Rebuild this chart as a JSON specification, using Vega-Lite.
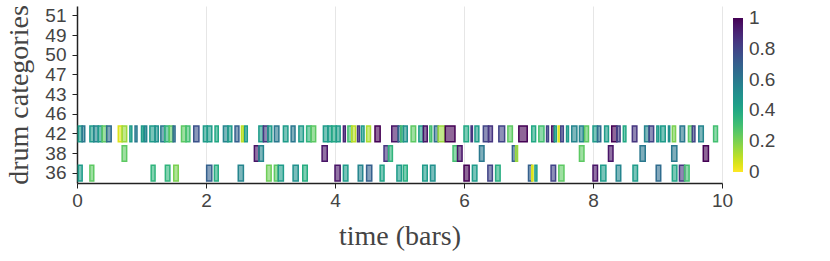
{
  "$schema": "https://vega.github.io/schema/vega-lite/v6.json",
  "autosize": {"type": "none"},
  "width": 645,
  "height": 177,
  "padding": {"left": 77, "top": 6, "right": 108, "bottom": 78},
  "background": "white",
  "config": {"view": {"stroke": null}},
  "data": {"values": [
    {"drum":"42","t0":0.02,"t1":0.08,"v":0.45},
    {"drum":"42","t0":0.08,"t1":0.12,"v":0.6},
    {"drum":"42","t0":0.20,"t1":0.26,"v":0.45},
    {"drum":"42","t0":0.26,"t1":0.33,"v":0.55},
    {"drum":"42","t0":0.33,"t1":0.39,"v":0.45},
    {"drum":"42","t0":0.39,"t1":0.46,"v":0.25},
    {"drum":"42","t0":0.46,"t1":0.53,"v":0.65},
    {"drum":"42","t0":0.64,"t1":0.70,"v":0.05},
    {"drum":"42","t0":0.70,"t1":0.77,"v":0.15},
    {"drum":"42","t0":0.82,"t1":0.85,"v":0.45},
    {"drum":"42","t0":0.90,"t1":0.93,"v":0.6},
    {"drum":"42","t0":1.00,"t1":1.03,"v":0.45},
    {"drum":"42","t0":1.05,"t1":1.08,"v":0.55},
    {"drum":"42","t0":1.13,"t1":1.21,"v":0.45},
    {"drum":"42","t0":1.21,"t1":1.26,"v":0.5},
    {"drum":"42","t0":1.30,"t1":1.36,"v":0.6},
    {"drum":"42","t0":1.36,"t1":1.43,"v":0.35},
    {"drum":"42","t0":1.43,"t1":1.49,"v":0.25},
    {"drum":"42","t0":1.49,"t1":1.52,"v":0.65},
    {"drum":"42","t0":1.62,"t1":1.69,"v":0.25},
    {"drum":"42","t0":1.69,"t1":1.75,"v":0.3},
    {"drum":"42","t0":1.81,"t1":1.89,"v":0.75},
    {"drum":"42","t0":1.96,"t1":2.02,"v":0.45},
    {"drum":"42","t0":2.02,"t1":2.09,"v":0.45},
    {"drum":"42","t0":2.14,"t1":2.19,"v":0.4},
    {"drum":"42","t0":2.27,"t1":2.34,"v":0.55},
    {"drum":"42","t0":2.34,"t1":2.40,"v":0.45},
    {"drum":"42","t0":2.45,"t1":2.51,"v":0.7},
    {"drum":"42","t0":2.55,"t1":2.58,"v":0.1},
    {"drum":"42","t0":2.60,"t1":2.64,"v":0.45},
    {"drum":"42","t0":2.82,"t1":2.89,"v":0.45},
    {"drum":"42","t0":2.89,"t1":2.96,"v":0.85},
    {"drum":"42","t0":2.96,"t1":3.02,"v":0.45},
    {"drum":"42","t0":3.06,"t1":3.13,"v":0.6},
    {"drum":"42","t0":3.20,"t1":3.27,"v":0.45},
    {"drum":"42","t0":3.32,"t1":3.38,"v":0.6},
    {"drum":"42","t0":3.44,"t1":3.51,"v":0.45},
    {"drum":"42","t0":3.56,"t1":3.63,"v":0.35},
    {"drum":"42","t0":3.63,"t1":3.70,"v":0.25},
    {"drum":"42","t0":3.82,"t1":3.89,"v":0.45},
    {"drum":"42","t0":3.89,"t1":3.95,"v":0.45},
    {"drum":"42","t0":3.95,"t1":4.02,"v":0.4},
    {"drum":"42","t0":4.02,"t1":4.08,"v":0.45},
    {"drum":"42","t0":4.13,"t1":4.16,"v":0.9},
    {"drum":"42","t0":4.20,"t1":4.26,"v":0.3},
    {"drum":"42","t0":4.26,"t1":4.32,"v":0.1},
    {"drum":"42","t0":4.35,"t1":4.38,"v":0.85},
    {"drum":"42","t0":4.41,"t1":4.45,"v":0.45},
    {"drum":"42","t0":4.49,"t1":4.55,"v":0.12},
    {"drum":"42","t0":4.62,"t1":4.70,"v":1.0},
    {"drum":"42","t0":4.88,"t1":4.98,"v":0.95},
    {"drum":"42","t0":4.98,"t1":5.02,"v":0.65},
    {"drum":"42","t0":5.02,"t1":5.06,"v":0.3},
    {"drum":"42","t0":5.06,"t1":5.12,"v":0.5},
    {"drum":"42","t0":5.18,"t1":5.25,"v":0.25},
    {"drum":"42","t0":5.30,"t1":5.37,"v":0.45},
    {"drum":"42","t0":5.37,"t1":5.43,"v":0.95},
    {"drum":"42","t0":5.47,"t1":5.50,"v":0.3},
    {"drum":"42","t0":5.54,"t1":5.60,"v":0.65},
    {"drum":"42","t0":5.60,"t1":5.70,"v":0.15},
    {"drum":"42","t0":5.71,"t1":5.86,"v":1.0},
    {"drum":"42","t0":6.00,"t1":6.07,"v":0.4},
    {"drum":"42","t0":6.11,"t1":6.13,"v":0.85},
    {"drum":"42","t0":6.17,"t1":6.23,"v":0.45},
    {"drum":"42","t0":6.30,"t1":6.38,"v":0.8},
    {"drum":"42","t0":6.38,"t1":6.44,"v":0.85},
    {"drum":"42","t0":6.54,"t1":6.63,"v":0.8},
    {"drum":"42","t0":6.68,"t1":6.75,"v":0.25},
    {"drum":"42","t0":6.85,"t1":6.98,"v":1.0},
    {"drum":"42","t0":7.05,"t1":7.11,"v":0.4},
    {"drum":"42","t0":7.16,"t1":7.24,"v":0.3},
    {"drum":"42","t0":7.28,"t1":7.31,"v":0.8},
    {"drum":"42","t0":7.36,"t1":7.40,"v":0.95},
    {"drum":"42","t0":7.40,"t1":7.43,"v":0.45},
    {"drum":"42","t0":7.46,"t1":7.49,"v":0.05},
    {"drum":"42","t0":7.50,"t1":7.54,"v":0.8},
    {"drum":"42","t0":7.59,"t1":7.62,"v":0.45},
    {"drum":"42","t0":7.67,"t1":7.75,"v":0.55},
    {"drum":"42","t0":7.79,"t1":7.85,"v":0.55},
    {"drum":"42","t0":7.87,"t1":7.93,"v":0.25},
    {"drum":"42","t0":8.00,"t1":8.07,"v":0.45},
    {"drum":"42","t0":8.07,"t1":8.12,"v":0.65},
    {"drum":"42","t0":8.18,"t1":8.24,"v":0.45},
    {"drum":"42","t0":8.29,"t1":8.37,"v":1.0},
    {"drum":"42","t0":8.37,"t1":8.42,"v":0.8},
    {"drum":"42","t0":8.47,"t1":8.51,"v":0.4},
    {"drum":"42","t0":8.61,"t1":8.68,"v":0.85},
    {"drum":"42","t0":8.80,"t1":8.87,"v":0.55},
    {"drum":"42","t0":8.87,"t1":8.94,"v":0.8},
    {"drum":"42","t0":8.99,"t1":9.02,"v":0.45},
    {"drum":"42","t0":9.05,"t1":9.12,"v":0.45},
    {"drum":"42","t0":9.17,"t1":9.19,"v":0.5},
    {"drum":"42","t0":9.23,"t1":9.28,"v":0.2},
    {"drum":"42","t0":9.35,"t1":9.42,"v":0.6},
    {"drum":"42","t0":9.48,"t1":9.54,"v":0.25},
    {"drum":"42","t0":9.54,"t1":9.58,"v":0.8},
    {"drum":"42","t0":9.64,"t1":9.71,"v":0.55},
    {"drum":"42","t0":9.87,"t1":9.93,"v":0.3},
    {"drum":"38","t0":0.70,"t1":0.77,"v":0.25},
    {"drum":"38","t0":2.75,"t1":2.82,"v":0.95},
    {"drum":"38","t0":2.82,"t1":2.89,"v":0.55},
    {"drum":"38","t0":3.80,"t1":3.88,"v":0.95},
    {"drum":"38","t0":4.76,"t1":4.83,"v":0.85},
    {"drum":"38","t0":4.83,"t1":4.89,"v":0.35},
    {"drum":"38","t0":5.83,"t1":5.90,"v":0.3},
    {"drum":"38","t0":5.90,"t1":5.97,"v":0.95},
    {"drum":"38","t0":6.24,"t1":6.31,"v":0.6},
    {"drum":"38","t0":6.75,"t1":6.80,"v":0.7},
    {"drum":"38","t0":6.80,"t1":6.83,"v":0.15},
    {"drum":"38","t0":7.79,"t1":7.86,"v":0.25},
    {"drum":"38","t0":8.24,"t1":8.31,"v":0.95},
    {"drum":"38","t0":8.73,"t1":8.81,"v":0.6},
    {"drum":"38","t0":9.22,"t1":9.30,"v":0.6},
    {"drum":"38","t0":9.71,"t1":9.79,"v":1.0},
    {"drum":"36","t0":0.02,"t1":0.08,"v":0.45},
    {"drum":"36","t0":0.20,"t1":0.26,"v":0.25},
    {"drum":"36","t0":1.15,"t1":1.21,"v":0.35},
    {"drum":"36","t0":1.37,"t1":1.44,"v":0.35},
    {"drum":"36","t0":1.50,"t1":1.57,"v":0.2},
    {"drum":"36","t0":2.01,"t1":2.09,"v":0.7},
    {"drum":"36","t0":2.13,"t1":2.19,"v":0.38},
    {"drum":"36","t0":2.50,"t1":2.58,"v":0.55},
    {"drum":"36","t0":2.94,"t1":3.01,"v":0.22},
    {"drum":"36","t0":3.06,"t1":3.12,"v":0.25},
    {"drum":"36","t0":3.12,"t1":3.20,"v":0.45},
    {"drum":"36","t0":3.35,"t1":3.43,"v":0.5},
    {"drum":"36","t0":3.50,"t1":3.57,"v":0.38},
    {"drum":"36","t0":4.00,"t1":4.08,"v":0.95},
    {"drum":"36","t0":4.13,"t1":4.20,"v":0.45},
    {"drum":"36","t0":4.36,"t1":4.43,"v":0.55},
    {"drum":"36","t0":4.49,"t1":4.57,"v":0.7},
    {"drum":"36","t0":4.70,"t1":4.76,"v":0.42},
    {"drum":"36","t0":4.96,"t1":5.03,"v":0.45},
    {"drum":"36","t0":5.06,"t1":5.12,"v":0.38},
    {"drum":"36","t0":5.36,"t1":5.43,"v":0.45},
    {"drum":"36","t0":5.48,"t1":5.55,"v":0.5},
    {"drum":"36","t0":6.00,"t1":6.08,"v":1.0},
    {"drum":"36","t0":6.13,"t1":6.20,"v":0.45},
    {"drum":"36","t0":6.37,"t1":6.44,"v":0.8},
    {"drum":"36","t0":6.49,"t1":6.56,"v":0.38},
    {"drum":"36","t0":7.00,"t1":7.05,"v":0.7},
    {"drum":"36","t0":7.05,"t1":7.07,"v":0.05},
    {"drum":"36","t0":7.10,"t1":7.13,"v":0.45},
    {"drum":"36","t0":7.35,"t1":7.42,"v":0.8},
    {"drum":"36","t0":7.47,"t1":7.55,"v":0.25},
    {"drum":"36","t0":8.00,"t1":8.07,"v":0.95},
    {"drum":"36","t0":8.12,"t1":8.20,"v":0.45},
    {"drum":"36","t0":8.36,"t1":8.43,"v":0.55},
    {"drum":"36","t0":8.62,"t1":8.69,"v":0.45},
    {"drum":"36","t0":8.98,"t1":9.05,"v":0.65},
    {"drum":"36","t0":9.23,"t1":9.30,"v":0.42},
    {"drum":"36","t0":9.34,"t1":9.42,"v":0.85},
    {"drum":"36","t0":9.42,"t1":9.49,"v":0.3}
  ]},
  "encoding": {
    "x": {"field": "t0", "type": "quantitative",
      "scale": {"domain": [0, 10], "nice": false, "zero": false},
      "axis": {"values": [0, 2, 4, 6, 8, 10], "title": "time (bars)", "format": "d", "labelFlush": false,
        "grid": true, "gridColor": "#e6e6e6", "gridWidth": 1,
        "domainColor": "#222", "domainWidth": 1.5, "tickColor": "#222", "tickSize": 5,
        "labelFont": "Liberation Sans", "labelFontSize": 19, "labelColor": "#444", "labelPadding": 3,
        "titleFont": "Liberation Serif", "titleFontSize": 28, "titleFontWeight": "normal", "titleColor": "#444", "titlePadding": 12}},
    "x2": {"field": "t1"},
    "y": {"field": "drum", "type": "nominal",
      "scale": {"domain": ["51", "49", "50", "47", "43", "46", "42", "38", "36"], "paddingInner": 0.2, "paddingOuter": 0.1},
      "axis": {"title": "drum categories", "grid": false,
        "domainColor": "#222", "domainWidth": 1.5, "tickColor": "#222", "tickSize": 5,
        "labelFont": "Liberation Sans", "labelFontSize": 19, "labelColor": "#444", "labelPadding": 6,
        "titleFont": "Liberation Serif", "titleFontSize": 28, "titleFontWeight": "normal", "titleColor": "#444", "titlePadding": 11}}
  },
  "layer": [
    {
      "mark": {"type": "bar", "fillOpacity": 0.6, "orient": "horizontal", "strokeWidth": 0},
      "encoding": {
        "color": {"field": "v", "type": "quantitative",
          "scale": {"scheme": "viridis", "reverse": true, "domain": [0, 1]},
          "legend": {"type": "gradient", "title": null, "orient": "none", "legendX": 656, "legendY": 12, "direction": "vertical",
            "gradientLength": 154, "gradientThickness": 10, "tickCount": 5, "format": "~g",
            "labelFont": "Liberation Sans", "labelFontSize": 19, "labelColor": "#444", "labelOffset": 6, "labelOverlap": false, "gradientStrokeWidth": 0,
            "encoding": {"labels": {"baseline": {"value": "middle"}}}}}
      }
    },
    {
      "mark": {"type": "bar", "filled": false, "orient": "horizontal", "strokeWidth": 1.5},
      "encoding": {
        "color": {"field": "v", "type": "quantitative", "legend": null}
      }
    }
  ],
  "resolve": {"legend": {"color": "independent"}}
}
